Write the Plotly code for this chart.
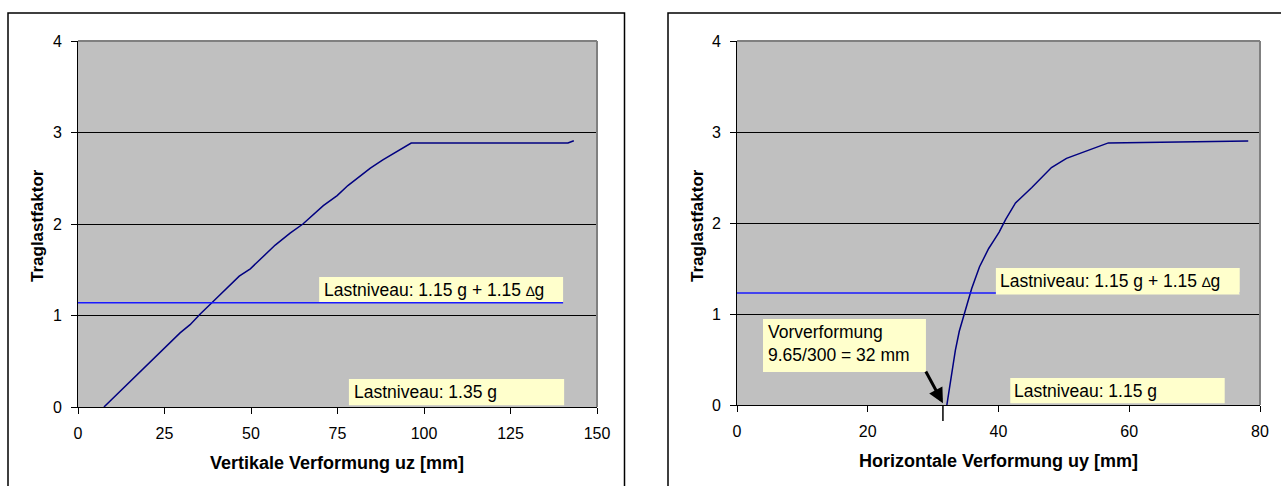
import plotly.graph_objects as go

# ---- data ----
uz = [7.5, 29.5, 32.4, 35.4, 39.5, 43.5, 46.6, 49.8, 53.1, 57.0, 61.3, 65.0,
      70.9, 74.9, 78.0, 81.4, 84.5, 88.1, 92.0, 96.3, 141.6, 143.3]
lam_v = [0.0, 0.81, 0.90, 1.02, 1.17, 1.32, 1.43, 1.51, 1.63, 1.77, 1.90, 2.00,
         2.20, 2.31, 2.42, 2.52, 2.61, 2.70, 2.79, 2.885, 2.885, 2.91]

uy = [32.1, 33.4, 34.0, 34.9, 35.9, 37.1, 38.5, 39.3, 40.1, 41.1, 42.6, 45.1,
      48.1, 50.4, 53.4, 56.8, 78.2]
lam_h = [0.0, 0.60, 0.81, 1.02, 1.28, 1.52, 1.72, 1.81, 1.90, 2.04, 2.22, 2.39,
         2.61, 2.71, 2.79, 2.88, 2.90]

level_v_x = [0, 140.2]
level_v_y = [1.14, 1.14]
level_h_x = [0, 76.9]
level_h_y = [1.23, 1.23]

y_ticks = [0, 1, 2, 3, 4]
x_ticks_v = [0, 25, 50, 75, 100, 125, 150]
x_ticks_h = [0, 20, 40, 60, 80]

W, H = 1281, 486
FONT = "Liberation Sans, Arial, sans-serif"
NAVY = "#000080"
BLUE = "#1a1aff"
BOX = "#FFFFCC"


def px(x):
    return x / W


def py(y):
    return 1 - y / H


fig = go.Figure()
fig.add_trace(go.Scatter(x=uz, y=lam_v, mode="lines", line=dict(color=NAVY, width=1.5),
                         xaxis="x", yaxis="y", showlegend=False))
fig.add_trace(go.Scatter(x=level_v_x, y=level_v_y, mode="lines", line=dict(color=BLUE, width=1.5),
                         xaxis="x", yaxis="y", showlegend=False))
fig.add_trace(go.Scatter(x=uy, y=lam_h, mode="lines", line=dict(color=NAVY, width=1.5),
                         xaxis="x2", yaxis="y2", showlegend=False))
fig.add_trace(go.Scatter(x=level_h_x, y=level_h_y, mode="lines", line=dict(color=BLUE, width=1.5),
                         xaxis="x2", yaxis="y2", showlegend=False))

axis_common = dict(showline=True, linecolor="black", linewidth=1, ticks="outside",
                   ticklen=6, tickcolor="black", tickfont=dict(family=FONT, size=16, color="black"),
                   zeroline=False, fixedrange=True, automargin=False)

fig.update_layout(
    width=W, height=H, margin=dict(l=0, r=0, t=0, b=0, pad=0, autoexpand=False),
    paper_bgcolor="white", plot_bgcolor="#C0C0C0",
    font=dict(family=FONT, color="black"),
    xaxis=dict(domain=[px(78), px(597)], range=[0, 150], tickvals=x_ticks_v, showgrid=False,
               anchor="y", ticklabelstandoff=6, **axis_common),
    yaxis=dict(domain=[py(407), py(41)], range=[0, 4], tickvals=y_ticks, showgrid=True,
               gridcolor="black", gridwidth=1, anchor="x", ticklabelstandoff=6, **axis_common),
    xaxis2=dict(domain=[px(737), px(1260)], range=[0, 80], tickvals=x_ticks_h, showgrid=False,
                anchor="y2", ticklabelstandoff=6, **axis_common),
    yaxis2=dict(domain=[py(405), py(41)], range=[0, 4], tickvals=y_ticks, showgrid=True,
                gridcolor="black", gridwidth=1, anchor="x2", ticklabelstandoff=6, **axis_common),
)

shapes = []
# outer frames
shapes.append(dict(type="rect", xref="paper", yref="paper", x0=px(8), x1=px(624.5),
                   y0=-0.05, y1=py(13), line=dict(color="black", width=1.5), layer="below"))
shapes.append(dict(type="rect", xref="paper", yref="paper", x0=px(668), x1=1.05,
                   y0=-0.05, y1=py(13), line=dict(color="black", width=1.5), layer="below"))
# gray top/right plot borders
for xr, yr in (("x", "y"), ("x2", "y2")):
    shapes.append(dict(type="line", xref=f"{xr} domain", yref=f"{yr} domain", x0=0, x1=1, y0=1, y1=1,
                       line=dict(color="#808080", width=2)))
    shapes.append(dict(type="line", xref=f"{xr} domain", yref=f"{yr} domain", x0=1, x1=1, y0=0, y1=1,
                       line=dict(color="#808080", width=2)))
# yellow boxes
shapes.append(dict(type="rect", xref="x", yref="y", x0=69.7, x1=140.2, y0=1.148, y1=1.42,
                   fillcolor=BOX, line=dict(width=0)))
shapes.append(dict(type="rect", xref="x", yref="y", x0=78.3, x1=140.5, y0=0.02, y1=0.306,
                   fillcolor=BOX, line=dict(width=0)))
shapes.append(dict(type="rect", xref="x2", yref="y2", x0=39.6, x1=76.9, y0=1.215, y1=1.505,
                   fillcolor=BOX, line=dict(width=0)))
shapes.append(dict(type="rect", xref="x2", yref="y2", x0=41.8, x1=74.6, y0=0.02, y1=0.297,
                   fillcolor=BOX, line=dict(width=0)))
shapes.append(dict(type="rect", xref="x2", yref="y2", x0=3.98, x1=28.9, y0=0.363, y1=0.945,
                   fillcolor=BOX, line=dict(width=0)))
# marker line below axis at initial imperfection
shapes.append(dict(type="line", xref="x2", yref="paper", x0=31.5, x1=31.5, y0=py(405), y1=py(421),
                   line=dict(color="black", width=1.5)))
fig.update_layout(shapes=shapes)

DELTA = "<span style='font-size:14px'>∆</span>"
ann = []
tf = dict(family=FONT, size=17.5, color="black")
ann.append(dict(xref="x", yref="y", x=70.6, y=1.28, text=f"Lastniveau: 1.15 g + 1.15 {DELTA}g",
                showarrow=False, xanchor="left", yanchor="middle", font=tf))
ann.append(dict(xref="x", yref="y", x=79.3, y=0.164, text="Lastniveau: 1.35 g",
                showarrow=False, xanchor="left", yanchor="middle", font=tf))
ann.append(dict(xref="x2", yref="y2", x=39.9, y=1.368, text=f"Lastniveau: 1.15 g + 1.15 {DELTA}g",
                showarrow=False, xanchor="left", yanchor="middle", font=tf))
ann.append(dict(xref="x2", yref="y2", x=42.1, y=0.159, text="Lastniveau: 1.15 g",
                showarrow=False, xanchor="left", yanchor="middle", font=tf))
ann.append(dict(xref="x2", yref="y2", x=4.4, y=0.676, text="Vorverformung<br>9.65/300 = 32 mm",
                showarrow=False, xanchor="left", yanchor="middle", align="left", font=tf))
# arrow
ann.append(dict(xref="x2", yref="y2", x=31.5, y=0.02, ax=28.76, ay=0.385, axref="x2", ayref="y2",
                text="", showarrow=True, arrowhead=2, arrowsize=1, arrowwidth=3, arrowcolor="black"))
# axis titles
xtf = dict(family=FONT, size=18, color="black")
ytf = dict(family=FONT, size=17, color="black")
ann.append(dict(xref="paper", yref="paper", x=px(337), y=py(463), text="<b>Vertikale Verformung uz [mm]</b>",
                showarrow=False, xanchor="center", yanchor="middle", font=xtf))
ann.append(dict(xref="paper", yref="paper", x=px(998), y=py(461), text="<b>Horizontale Verformung uy [mm]</b>",
                showarrow=False, xanchor="center", yanchor="middle", font=xtf))
ann.append(dict(xref="paper", yref="paper", x=px(37), y=py(226), text="<b>Traglastfaktor</b>", textangle=-90,
                showarrow=False, xanchor="center", yanchor="middle", font=ytf))
ann.append(dict(xref="paper", yref="paper", x=px(697), y=py(226), text="<b>Traglastfaktor</b>", textangle=-90,
                showarrow=False, xanchor="center", yanchor="middle", font=ytf))
fig.update_layout(annotations=ann)

fig.write_html(
    "out.html",
    config={"displayModeBar": False, "staticPlot": True},
    post_script=(
        "document.documentElement.style.margin='0';"
        "document.documentElement.style.overflow='hidden';"
        "document.body.style.margin='0';document.body.style.overflow='hidden';"
    ),
)
